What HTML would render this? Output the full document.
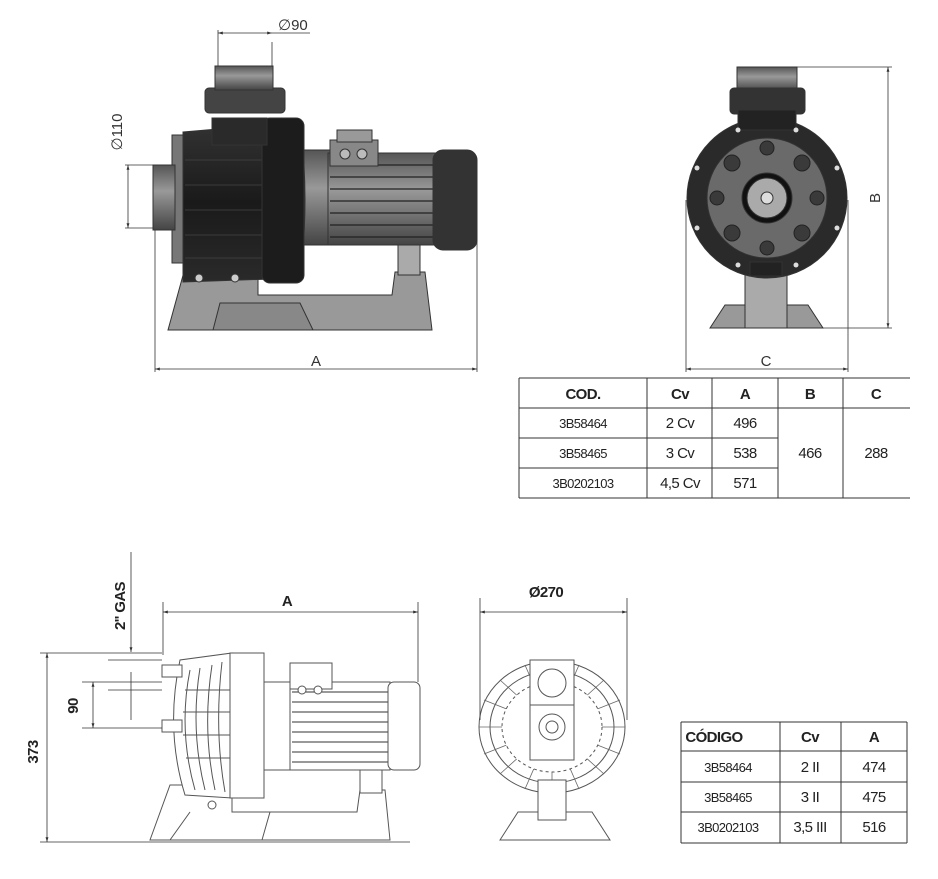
<!DOCTYPE html>
<html><head><style>
body{margin:0;background:#fff;width:938px;height:879px;overflow:hidden}
svg{display:block}
.t{font-family:"Liberation Sans",sans-serif}
.c{font-family:"Liberation Sans",sans-serif;letter-spacing:-0.6px}
</style></head><body>
<svg width="938" height="879" viewBox="0 0 938 879" xmlns="http://www.w3.org/2000/svg">
<defs>
<marker id="a" viewBox="0 0 10 10" refX="10" refY="5" markerWidth="8" markerHeight="6" orient="auto-start-reverse"><path d="M0,2 L10,5 L0,8z" fill="#333"/></marker>
<linearGradient id="g1" x1="0" x2="0" y1="0" y2="1"><stop offset="0" stop-color="#555"/><stop offset=".4" stop-color="#999"/><stop offset="1" stop-color="#444"/></linearGradient>
<linearGradient id="g2" x1="0" x2="0" y1="0" y2="1"><stop offset="0" stop-color="#333"/><stop offset=".5" stop-color="#1a1a1a"/><stop offset="1" stop-color="#2a2a2a"/></linearGradient>
</defs>
<!-- TOP LEFT PUMP -->
<g stroke="#333" stroke-width="1">
<path d="M168,330 L185,268 L258,268 L258,295 L392,295 L395,272 L425,272 L432,330 Z" fill="#999"/>
<path d="M213,330 L220,303 L300,303 L313,330Z" fill="#888"/>
<rect x="398" y="240" width="22" height="35" fill="#aaa"/>
<rect x="300" y="150" width="40" height="95" fill="url(#g1)"/>
<rect x="328" y="153" width="110" height="92" fill="url(#g1)"/>
<g stroke="#222" stroke-width="1.2"><line x1="330" y1="165" x2="435" y2="165"/><line x1="330" y1="177" x2="435" y2="177"/><line x1="330" y1="189" x2="435" y2="189"/><line x1="330" y1="201" x2="435" y2="201"/><line x1="330" y1="213" x2="435" y2="213"/><line x1="330" y1="225" x2="435" y2="225"/><line x1="330" y1="237" x2="435" y2="237"/></g>
<rect x="433" y="150" width="44" height="100" rx="10" fill="#333"/>
<rect x="330" y="140" width="48" height="26" fill="#888"/>
<rect x="337" y="130" width="35" height="12" fill="#999"/>
<circle cx="345" cy="154" r="5" fill="#bbb"/><circle cx="362" cy="154" r="5" fill="#bbb"/>
<rect x="172" y="135" width="12" height="128" fill="#777"/>
<rect x="153" y="165" width="22" height="65" fill="url(#g1)"/>
<path d="M183,132 L300,122 Q310,200 300,278 L183,282 Z" fill="url(#g2)"/>
<g stroke="#444" stroke-width="0.8"><line x1="185" y1="160" x2="262" y2="160"/><line x1="185" y1="185" x2="262" y2="185"/><line x1="185" y1="210" x2="262" y2="210"/><line x1="185" y1="235" x2="262" y2="235"/><line x1="185" y1="258" x2="262" y2="258"/></g>
<rect x="262" y="118" width="42" height="165" rx="8" fill="#1c1c1c"/>
<rect x="212" y="118" width="55" height="27" fill="#2a2a2a"/>
<rect x="205" y="88" width="80" height="25" rx="4" fill="#444"/>
<rect x="215" y="66" width="58" height="24" fill="url(#g1)"/>
<circle cx="199" cy="278" r="4" fill="#ccc"/><circle cx="235" cy="278" r="4" fill="#ccc"/>
</g>
<g stroke="#333" stroke-width="0.8" fill="none">
<line x1="218" y1="30" x2="218" y2="66"/><line x1="272" y1="42" x2="272" y2="66"/>
<line x1="218" y1="33" x2="272" y2="33" marker-start="url(#a)" marker-end="url(#a)"/><line x1="272" y1="33" x2="310" y2="33"/>
<line x1="125" y1="165" x2="153" y2="165"/><line x1="125" y1="228" x2="153" y2="228"/>
<line x1="128" y1="165" x2="128" y2="228" marker-start="url(#a)" marker-end="url(#a)"/>
<line x1="155" y1="230" x2="155" y2="372"/><line x1="477" y1="230" x2="477" y2="372"/>
<line x1="155" y1="369" x2="477" y2="369" marker-start="url(#a)" marker-end="url(#a)"/>
</g>
<text x="278" y="30" class="t" font-size="15" fill="#333">∅90</text>
<text x="122" y="132" class="t" font-size="15" fill="#333" transform="rotate(-90 122 132)" text-anchor="middle">∅110</text>
<text x="316" y="366" class="t" font-size="15" fill="#333" text-anchor="middle">A</text>
<!-- TOP RIGHT PUMP -->
<g stroke="#333" stroke-width="1">
<path d="M710,328 L725,305 L808,305 L823,328Z" fill="#999"/>
<rect x="745" y="262" width="42" height="66" fill="#aaa"/>
<rect x="737" y="67" width="60" height="24" fill="url(#g1)"/>
<rect x="730" y="88" width="75" height="26" rx="4" fill="#333"/>
<circle cx="767" cy="198" r="80" fill="#2a2a2a"/>
<rect x="738" y="110" width="58" height="20" fill="#222"/>
<circle cx="767" cy="198" r="60" fill="#6a6a6a"/>
<g fill="#3a3a3a" stroke="#222"><circle cx="767" cy="148" r="7"/><circle cx="767" cy="248" r="7"/><circle cx="717" cy="198" r="7"/><circle cx="817" cy="198" r="7"/><circle cx="732" cy="163" r="8"/><circle cx="802" cy="163" r="8"/><circle cx="732" cy="233" r="8"/><circle cx="802" cy="233" r="8"/></g>
<g fill="#ddd" stroke="none"><circle cx="697" cy="168" r="2.5"/><circle cx="837" cy="168" r="2.5"/><circle cx="697" cy="228" r="2.5"/><circle cx="837" cy="228" r="2.5"/><circle cx="738" cy="130" r="2.5"/><circle cx="796" cy="130" r="2.5"/><circle cx="738" cy="265" r="2.5"/><circle cx="796" cy="265" r="2.5"/></g>
<circle cx="767" cy="198" r="25" fill="#111"/>
<circle cx="767" cy="198" r="20" fill="#aaa"/>
<circle cx="767" cy="198" r="6" fill="#ddd"/>
<rect x="750" y="262" width="32" height="14" fill="#222"/>
</g>
<g stroke="#333" stroke-width="0.8" fill="none">
<line x1="797" y1="67" x2="892" y2="67"/><line x1="823" y1="328" x2="892" y2="328"/>
<line x1="888" y1="67" x2="888" y2="328" marker-start="url(#a)" marker-end="url(#a)"/>
<line x1="686" y1="200" x2="686" y2="372"/><line x1="848" y1="200" x2="848" y2="372"/>
<line x1="686" y1="369" x2="848" y2="369" marker-start="url(#a)" marker-end="url(#a)"/>
</g>
<text x="880" y="198" class="t" font-size="15" fill="#333" transform="rotate(-90 880 198)" text-anchor="middle">B</text>
<text x="766" y="366" class="t" font-size="15" fill="#333" text-anchor="middle">C</text>
<!-- TABLE 1 -->
<g stroke="#333" stroke-width="1">
<line x1="519" y1="378" x2="910" y2="378"/><line x1="519" y1="408" x2="910" y2="408"/>
<line x1="519" y1="438" x2="778" y2="438"/><line x1="519" y1="468" x2="778" y2="468"/>
<line x1="519" y1="498" x2="910" y2="498"/>
<line x1="519" y1="378" x2="519" y2="498"/><line x1="647" y1="378" x2="647" y2="498"/>
<line x1="712" y1="378" x2="712" y2="498"/><line x1="778" y1="378" x2="778" y2="498"/>
<line x1="843" y1="378" x2="843" y2="498"/>
</g>
<g class="c" font-size="15" fill="#222" text-anchor="middle">
<text x="583" y="399" font-weight="bold">COD.</text><text x="680" y="399" font-weight="bold">Cv</text><text x="745" y="399" font-weight="bold">A</text><text x="810" y="399" font-weight="bold">B</text><text x="876" y="399" font-weight="bold">C</text>
<text x="583" y="428" font-size="13">3B58464</text><text x="680" y="428">2 Cv</text><text x="745" y="428">496</text>
<text x="583" y="458" font-size="13">3B58465</text><text x="680" y="458">3 Cv</text><text x="745" y="458">538</text>
<text x="583" y="488" font-size="13">3B0202103</text><text x="680" y="488">4,5 Cv</text><text x="745" y="488">571</text>
<text x="810" y="458">466</text><text x="876" y="458">288</text>
</g>
<!-- BOTTOM LEFT LINE DRAWING -->
<g stroke="#555" stroke-width="1" fill="#fff">
<path d="M150,840 L170,785 L232,785 L232,812 L357,812 L360,790 L385,790 L390,840Z"/>
<path d="M170,840 L190,812 M270,812 L262,840" fill="none"/>
<rect x="360" y="768" width="22" height="25"/>
<rect x="264" y="682" width="30" height="88"/>
<rect x="290" y="682" width="100" height="88"/>
<g stroke="#333"><line x1="292" y1="692" x2="388" y2="692"/><line x1="292" y1="702" x2="388" y2="702"/><line x1="292" y1="712" x2="388" y2="712"/><line x1="292" y1="722" x2="388" y2="722"/><line x1="292" y1="732" x2="388" y2="732"/><line x1="292" y1="742" x2="388" y2="742"/><line x1="292" y1="752" x2="388" y2="752"/><line x1="292" y1="762" x2="388" y2="762"/></g>
<rect x="388" y="682" width="32" height="88" rx="6"/>
<rect x="290" y="663" width="42" height="26"/>
<circle cx="302" cy="690" r="4"/><circle cx="318" cy="690" r="4"/>
<path d="M180,660 Q165,730 185,795 L232,798 L232,653 Z"/>
<path d="M190,670 Q178,730 195,790 M200,668 Q190,730 205,790 M212,665 Q202,730 215,790 M222,662 Q214,730 225,792" fill="none"/>
<path d="M185,690 L230,690 M183,712 L230,712 M183,735 L230,735 M186,758 L230,758" fill="none"/>
<rect x="230" y="653" width="34" height="145"/>
<rect x="162" y="665" width="20" height="12"/><rect x="162" y="720" width="20" height="12"/>
<circle cx="212" cy="805" r="4"/>
</g>
<g stroke="#333" stroke-width="0.8" fill="none">
<line x1="131" y1="552" x2="131" y2="652" marker-end="url(#a)"/><line x1="131" y1="672" x2="131" y2="720"/>
<line x1="108" y1="660" x2="162" y2="660"/><line x1="108" y1="690" x2="162" y2="690"/>
<line x1="82" y1="682" x2="162" y2="682"/><line x1="82" y1="728" x2="162" y2="728"/>
<line x1="93" y1="682" x2="93" y2="728" marker-start="url(#a)" marker-end="url(#a)"/>
<line x1="40" y1="653" x2="162" y2="653"/><line x1="40" y1="842" x2="410" y2="842"/>
<line x1="47" y1="653" x2="47" y2="842" marker-start="url(#a)" marker-end="url(#a)"/>
<line x1="163" y1="602" x2="163" y2="655"/><line x1="418" y1="602" x2="418" y2="682"/>
<line x1="163" y1="612" x2="418" y2="612" marker-start="url(#a)" marker-end="url(#a)"/>
</g>
<text x="125" y="606" class="c" font-size="15" font-weight="bold" fill="#222" transform="rotate(-90 125 606)" text-anchor="middle">2'' GAS</text>
<text x="78" y="706" class="c" font-size="15" font-weight="bold" fill="#222" transform="rotate(-90 78 706)" text-anchor="middle">90</text>
<text x="38" y="752" class="c" font-size="15" font-weight="bold" fill="#222" transform="rotate(-90 38 752)" text-anchor="middle">373</text>
<text x="287" y="606" class="c" font-size="15" font-weight="bold" fill="#222" text-anchor="middle">A</text>
<!-- BOTTOM MIDDLE -->
<g stroke="#555" stroke-width="1" fill="#fff">
<path d="M500,840 L518,812 L592,812 L610,840Z"/>
<ellipse cx="552" cy="727" rx="73" ry="66"/>
<ellipse cx="552" cy="727" rx="62" ry="56" fill="none"/>
<g stroke="#666" stroke-width="0.8">
<line x1="479" y1="727" x2="625" y2="727"/><line x1="552" y1="661" x2="552" y2="793"/>
<line x1="500" y1="680" x2="604" y2="774"/><line x1="604" y1="680" x2="500" y2="774"/>
<line x1="484" y1="700" x2="620" y2="754"/><line x1="620" y1="700" x2="484" y2="754"/>
<line x1="525" y1="665" x2="579" y2="789"/><line x1="579" y1="665" x2="525" y2="789"/>
</g>
<ellipse cx="552" cy="727" rx="50" ry="45" stroke-dasharray="3 3"/>
<rect x="530" y="660" width="44" height="100"/>
<line x1="530" y1="705" x2="574" y2="705"/>
<circle cx="552" cy="683" r="14"/><circle cx="552" cy="727" r="13"/><circle cx="552" cy="727" r="6"/>
<rect x="538" y="780" width="28" height="40"/>
</g>
<g stroke="#333" stroke-width="0.8" fill="none">
<line x1="480" y1="598" x2="480" y2="720"/><line x1="627" y1="598" x2="627" y2="720"/>
<line x1="480" y1="612" x2="627" y2="612" marker-start="url(#a)" marker-end="url(#a)"/>
</g>
<text x="546" y="597" class="c" font-size="15" font-weight="bold" fill="#222" text-anchor="middle">Ø270</text>
<!-- TABLE 2 -->
<g stroke="#333" stroke-width="1">
<line x1="681" y1="722" x2="907" y2="722"/><line x1="681" y1="751" x2="907" y2="751"/>
<line x1="681" y1="782" x2="907" y2="782"/><line x1="681" y1="812" x2="907" y2="812"/>
<line x1="681" y1="843" x2="907" y2="843"/>
<line x1="681" y1="722" x2="681" y2="843"/><line x1="780" y1="722" x2="780" y2="843"/>
<line x1="841" y1="722" x2="841" y2="843"/><line x1="907" y1="722" x2="907" y2="843"/>
</g>
<g class="c" font-size="15" fill="#222" text-anchor="middle">
<text x="714" y="742" font-weight="bold">CÓDIGO</text><text x="810" y="742" font-weight="bold">Cv</text><text x="874" y="742" font-weight="bold">A</text>
<text x="728" y="772" font-size="13">3B58464</text><text x="810" y="772">2 II</text><text x="874" y="772">474</text>
<text x="728" y="802" font-size="13">3B58465</text><text x="810" y="802">3 II</text><text x="874" y="802">475</text>
<text x="728" y="832" font-size="13">3B0202103</text><text x="810" y="832">3,5 III</text><text x="874" y="832">516</text>
</g>
</svg>
</body></html>
